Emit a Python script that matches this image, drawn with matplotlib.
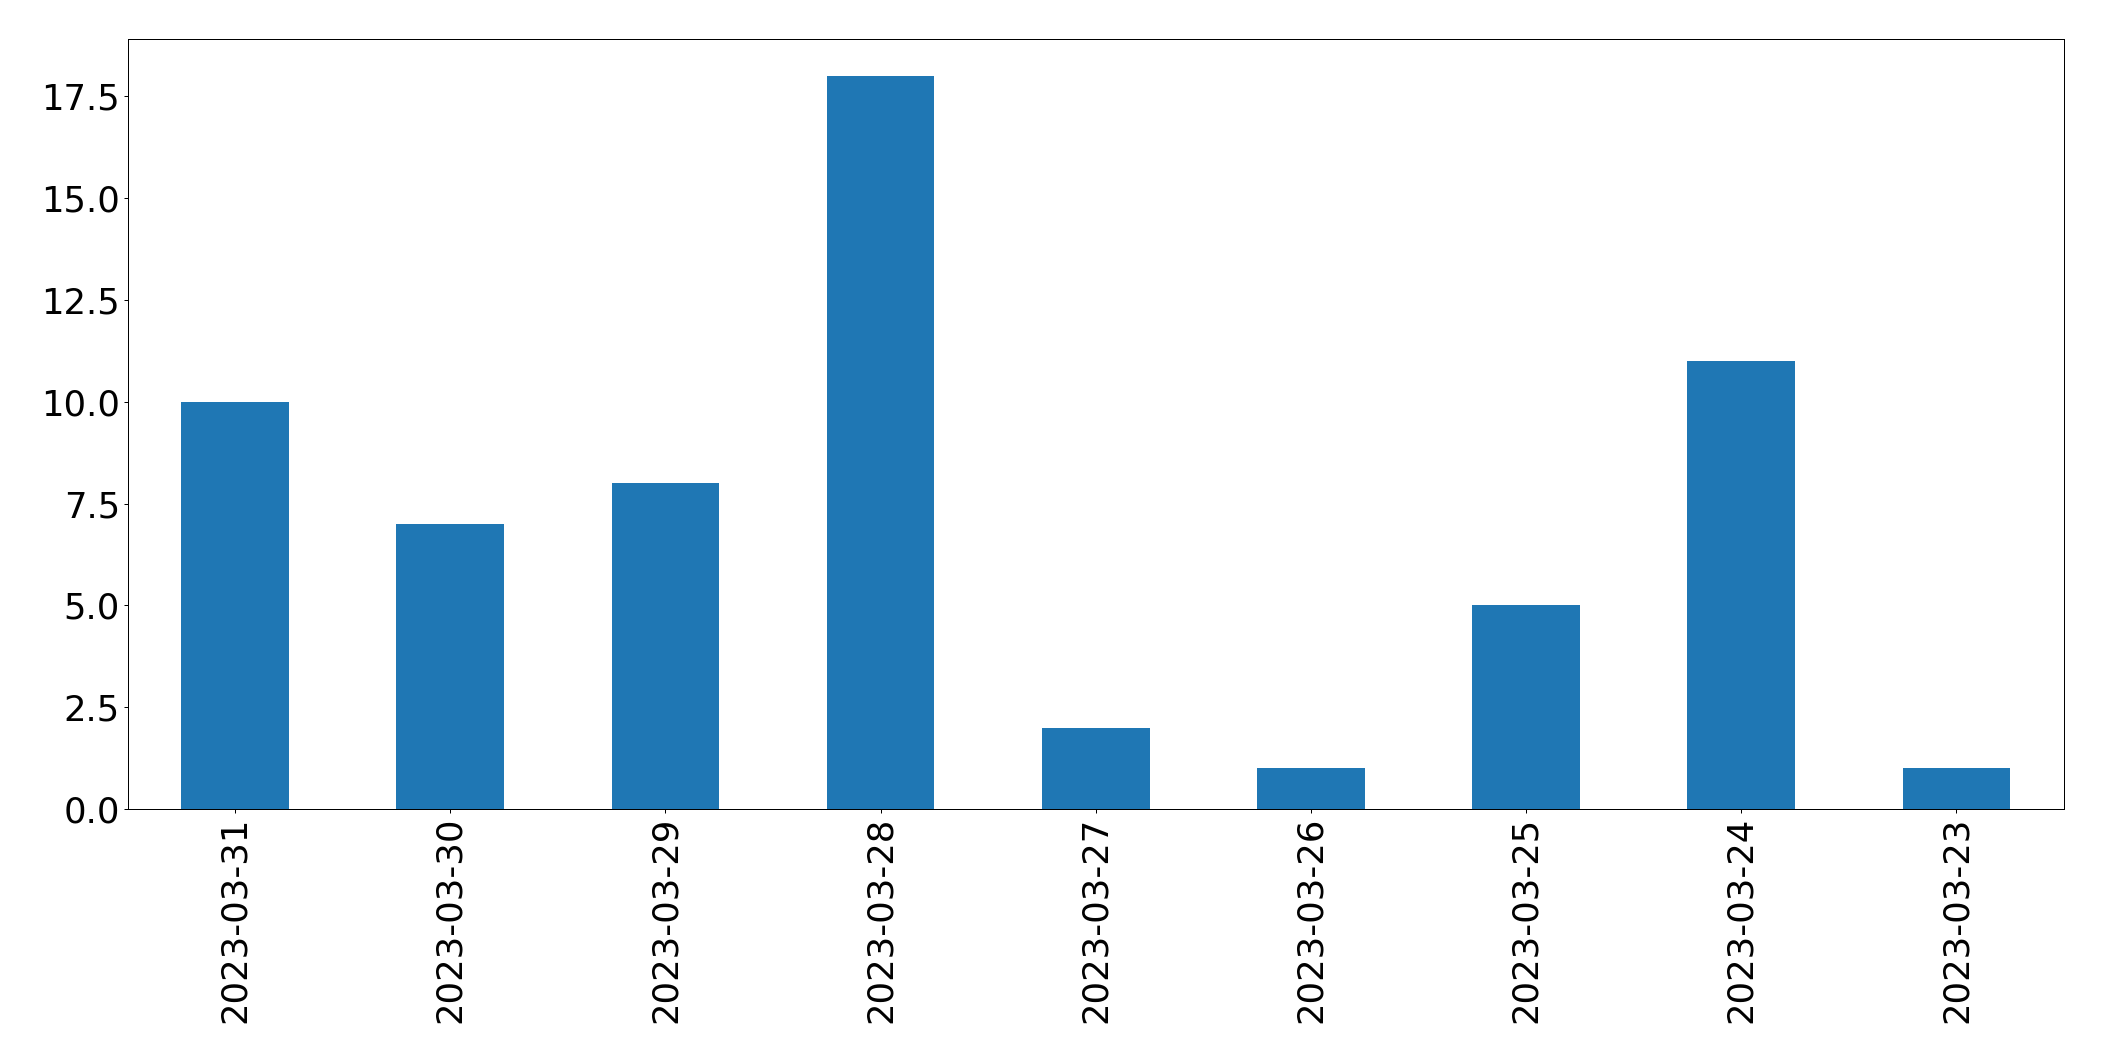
import numpy as np
import matplotlib.pyplot as plt

# daily counts, newest first
dates = ['2023-03-31', '2023-03-30', '2023-03-29', '2023-03-28', '2023-03-27',
         '2023-03-26', '2023-03-25', '2023-03-24', '2023-03-23']
counts = [10, 7, 8, 18, 2, 1, 5, 11, 1]

plt.rcParams.update({'font.size': 35.5, 'axes.linewidth': 1.0})
fig = plt.figure(figsize=(2104 / 72, 1061 / 72), dpi=72)
ax = fig.add_subplot(111)
plt.subplots_adjust(left=.0606, right=.981, bottom=.2375, top=.9628)

x = np.arange(len(dates))
ax.bar(x, counts, width=0.5, color='#1f77b4')
ax.set_xticks(x)
ax.set_xticklabels(dates, rotation=90)
ax.set_xlim(-0.5, len(dates) - 0.5)
ax.set_ylim(0, max(counts) * 1.05)
ax.set_yticks(np.arange(0, 18.1, 2.5))
ax.tick_params(length=4, width=1.0)

plt.savefig('out.png', dpi=72)
